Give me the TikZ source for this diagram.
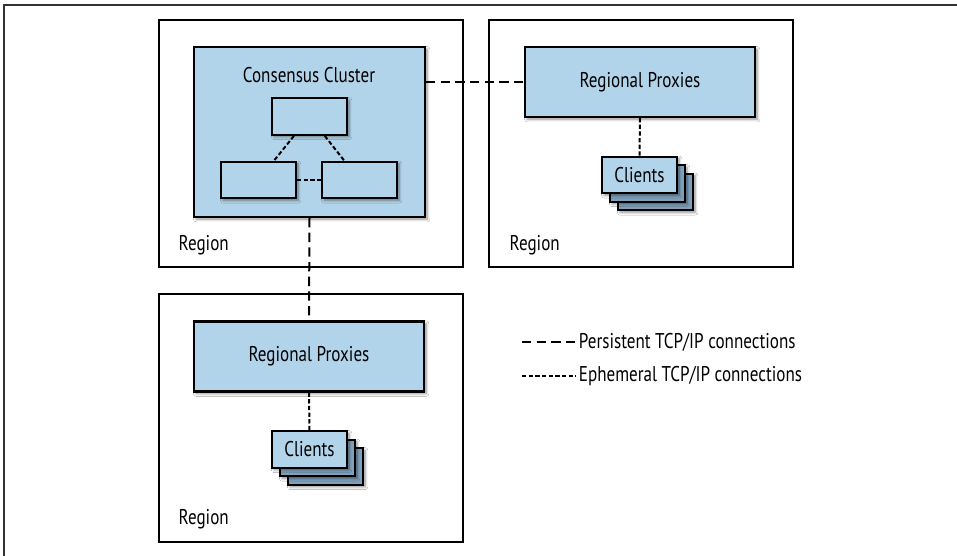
\documentclass[tikz,border=0pt]{standalone}
\usepackage{fontspec}
\setmainfont{PT Sans}[FakeStretch=0.8]
\usepackage{tikz}
\usepackage{xcolor}
\usetikzlibrary{shadows.blur}

\definecolor{boxblue}{HTML}{B2D4EA}
\definecolor{cardblue}{HTML}{7FA0BA}
\definecolor{framegray}{HTML}{333333}

\begin{document}
\begin{tikzpicture}[
    x=0.75pt, y=-0.75pt,
    every node/.style={font=\fontsize{16}{19}\selectfont},
    region/.style={draw=black, line width=1.4pt, fill=white,
        minimum width=228pt, minimum height=185.5pt},
    box/.style={draw=black, line width=1.6pt, fill=boxblue,
        blur shadow={shadow xshift=1.6pt, shadow yshift=-1.6pt,
            shadow blur steps=6, shadow opacity=45}},
    smallbox/.style={box, minimum width=56.25pt, minimum height=27.5pt},
    proxybox/.style={box, minimum width=172.5pt, minimum height=52.5pt},
    card/.style={smallbox, fill=cardblue},
    persistent/.style={line width=1.5pt, dash pattern=on 7pt off 4pt},
    ephemeral/.style={line width=1.5pt, dash pattern=on 3.2pt off 1.8pt}
]

\useasboundingbox (0,0) rectangle (957,556);

% frame of the figure
\draw[framegray, line width=1.5pt] (4,556) -- (4,5) -- (957,5);

% regions
\node[region] (regA) at (311,143.5) {};
\node[region] (regB) at (641,143.5) {};
\node[region, minimum height=186pt] (regC) at (311,418) {};

\node[anchor=west] (labA) at (174,245) {Region};
\node[anchor=west] (labB) at (505,245) {Region};
\node[anchor=west] (labC) at (174,519) {Region};

% consensus cluster
\node[box, minimum width=173.25pt, minimum height=127.5pt] (cluster) at (309.5,132) {};
\node (ctitle) at (309,75) {Consensus Cluster};

\node[smallbox] (ctop) at (309.5,116.5) {};
\node[smallbox] (cleft) at (258.5,180) {};
\node[smallbox] (cright) at (359.5,180) {};

\draw[ephemeral] (ctop) -- (cleft);
\draw[ephemeral] (ctop) -- (cright);
\draw[ephemeral] (cleft) -- (cright);

% regional proxies
\node[proxybox] (proxB) at (640,82) {Regional Proxies};
\node[proxybox] (proxC) at (309,356.5) {Regional Proxies};

% clients
\node[card] (cliB3) at (655.5,192) {};
\node[card] (cliB2) at (647.5,183.5) {};
\node[smallbox] (cliB) at (639.5,175) {Clients};

\node[card] (cliC3) at (325.5,466.5) {};
\node[card] (cliC2) at (317.5,458) {};
\node[smallbox] (cliC) at (309.5,449.5) {Clients};

% connections
\draw[persistent] (cluster.east |- proxB.west) -- (proxB.west);
\draw[persistent] (cluster.south) -- (proxC.north);
\draw[ephemeral] (proxB.south) -- (cliB.north);
\draw[ephemeral] (proxC.south) -- (cliC.north);

% legend
\coordinate (perA) at (522,342);
\coordinate (perB) at (576,342);
\coordinate (ephA) at (522,376);
\coordinate (ephB) at (576,376);
\draw[persistent] (perA) -- (perB);
\draw[ephemeral] (ephA) -- (ephB);
\node[anchor=west, inner sep=2pt] (perT) at (perB) {Persistent TCP/IP connections};
\node[anchor=west, inner sep=2pt] (ephT) at (ephB) {Ephemeral TCP/IP connections};

\end{tikzpicture}
\end{document}
